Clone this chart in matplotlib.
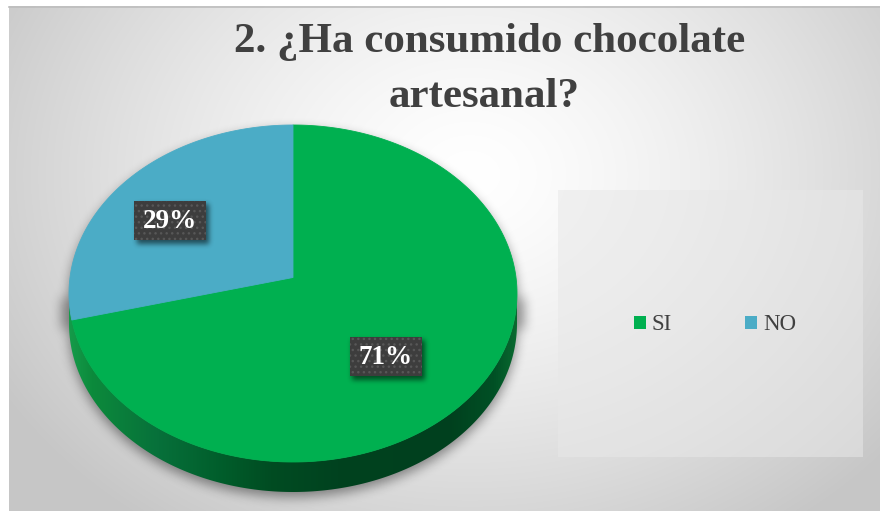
import numpy as np
import matplotlib.pyplot as plt
from matplotlib.patches import Rectangle, Polygon, Patch
from matplotlib.colors import LinearSegmentedColormap

# survey answers
categories = ["SI", "NO"]
values = [71, 29]
colors = ["#00b050", "#4bacc6"]
title_lines = ["2. ¿Ha consumido chocolate", "artesanal?"]

W, H = 880, 513
TEXT = "#404040"

# pie geometry, in pixels
cx, cy = 293.0, 293.5       # centre of the outline ellipse
ra, rb = 224.0, 168.5       # outline semi-axes
lift = 16.0                 # apex sits this far above the ellipse centre
depth = 30.0                # thickness of the disc
k = lift / rb
_th = np.linspace(0, 2 * np.pi, 4000)
A = ra / np.max(np.cos(_th) / (1 + k * np.sin(_th)))

# where the percentage boxes go
label_pos = [(385.5, 356.0), (170.0, 220.0)]
box_w, box_h = 72, 39


def project(u, v):
    # unit disc -> screen, simple perspective tilt
    d = 1 + k * v
    return cx + A * u / d, cy - (rb * v + lift) / d


def box_blur(img, r, passes=3):
    for _ in range(passes):
        for axis in (0, 1):
            pad = [(r + 1, r) if a == axis else (0, 0) for a in range(2)]
            c = np.cumsum(np.pad(img, pad, mode="edge"), axis=axis)
            n = img.shape[axis]
            hi = np.take(c, np.arange(2 * r + 1, 2 * r + 1 + n), axis=axis)
            lo = np.take(c, np.arange(0, n), axis=axis)
            img = (hi - lo) / (2 * r + 1)
    return img


plt.rcParams["font.family"] = ["Liberation Serif", "DejaVu Serif"]
fig = plt.figure(figsize=(W / 100, H / 100), dpi=100)
ax = fig.add_axes([0, 0, 1, 1])
ax.axis("off")

yy, xx = np.mgrid[0:H, 0:W] + 0.5

# background: soft radial grey
x0, y0, x1, y1 = 9, 6, 880, 511
r = np.sqrt(((xx - 470) / 540) ** 2 + ((yy - 175) / 430) ** 2)
g = 1 - (1 - 0.78) * np.clip(r, 0, 1) ** 1.4
bg = np.dstack([g, g, g])
sub = bg[y0:y1, x0:x1]
ax.imshow(sub, extent=(x0, x1, y1, y0), interpolation="bilinear", zorder=0)
ax.plot([x0, x1], [y0 + 0.5, y0 + 0.5], color="#bdbdbd", lw=1.2, zorder=1)

# pie shadow
nx = (xx - cx) / ra
half = rb * np.sqrt(np.clip(1 - nx ** 2, 0, None))
sy = yy - 5
mask = ((np.abs(nx) <= 1.03) & (sy >= cy - half) & (sy <= cy + depth + half)).astype(float)
shadow = box_blur(mask, 5)
sh = np.zeros((H, W, 4))
sh[..., 3] = 0.42 * shadow
ax.imshow(sh, extent=(0, W, H, 0), interpolation="bilinear", zorder=1.5)

# side of the disc, darker in the middle
side_cmap = LinearSegmentedColormap.from_list("side", [
    (0.0, "#159b4a"), (0.05, "#0c8a3c"), (0.2, "#07703a"), (0.35, "#005c2a"),
    (0.45, "#004c22"), (0.6, "#00421f"), (0.85, "#00401e"), (0.95, "#005025"),
    (1.0, "#0a6a30")])
t = np.linspace(0, np.pi, 300)
ex = cx + ra * np.cos(t)
ey = cy + rb * np.sin(t)
side = Polygon(np.c_[np.r_[ex, ex[::-1]], np.r_[ey, ey[::-1] + depth]],
               closed=True, fc="none", ec="none")
ax.add_patch(side)
im = ax.imshow(np.linspace(0, 1, 512)[None, :], cmap=side_cmap, aspect="auto",
               extent=(cx - ra, cx + ra, cy + rb + depth + 1, cy - 1), zorder=2)
im.set_clip_path(side)

# top face wedges, clockwise from twelve o'clock
fracs = np.array(values) / np.sum(values)
start = 90.0
mids = []
for frac, col in zip(fracs, colors):
    end = start - 360 * frac
    th = np.radians(np.linspace(start, end, 300))
    px, py = project(np.r_[0, np.cos(th)], np.r_[0, np.sin(th)])
    ax.fill(px, py, color=col, lw=0.6, ec=col, zorder=3)
    start = end

# shadows behind the value boxes
lab_mask = np.zeros((H, W))
for lx, ly in label_pos:
    lab_mask[(np.abs(xx - lx - 3) <= box_w / 2) & (np.abs(yy - ly - 4) <= box_h / 2)] = 1
lab_sh = box_blur(lab_mask, 2)
ls = np.zeros((H, W, 4))
ls[..., 3] = 0.55 * lab_sh
ax.imshow(ls, extent=(0, W, H, 0), interpolation="bilinear", zorder=4)

for (lx, ly), v in zip(label_pos, values):
    ax.add_patch(Rectangle((lx - box_w / 2, ly - box_h / 2), box_w, box_h,
                           fc="#3d3d3d", ec="none", zorder=5))
    ax.add_patch(Rectangle((lx - box_w / 2, ly - box_h / 2), box_w, box_h,
                           fc="none", ec="#575757", lw=0, hatch="...", zorder=5.5))
    ax.text(lx, ly + 1, f"{v}%", color="white", fontsize=19.5, fontweight="bold",
            ha="center", va="center", zorder=6)

# legend panel
ax.add_patch(Rectangle((558, 190), 305, 267, fc="#e8e8e8", alpha=0.55, ec="none", zorder=1.2))
handles = [Patch(fc=c, ec="none") for c in colors]
ax.legend(handles, categories, loc="center", bbox_to_anchor=(715, 325),
          bbox_transform=ax.transData, ncol=2, frameon=False, fontsize=16.5,
          handlelength=0.53, handleheight=0.53, handletextpad=0.25,
          columnspacing=3.2, borderpad=0, labelcolor=TEXT)

# title
ax.text(490, 52, title_lines[0], ha="center", va="baseline", fontsize=31,
        fontweight="bold", color=TEXT, zorder=6)
ax.text(484, 107, title_lines[1], ha="center", va="baseline", fontsize=31,
        fontweight="bold", color=TEXT, zorder=6)

ax.set_xlim(0, W)
ax.set_ylim(H, 0)
fig.savefig("out.png", dpi=100, facecolor="white")
